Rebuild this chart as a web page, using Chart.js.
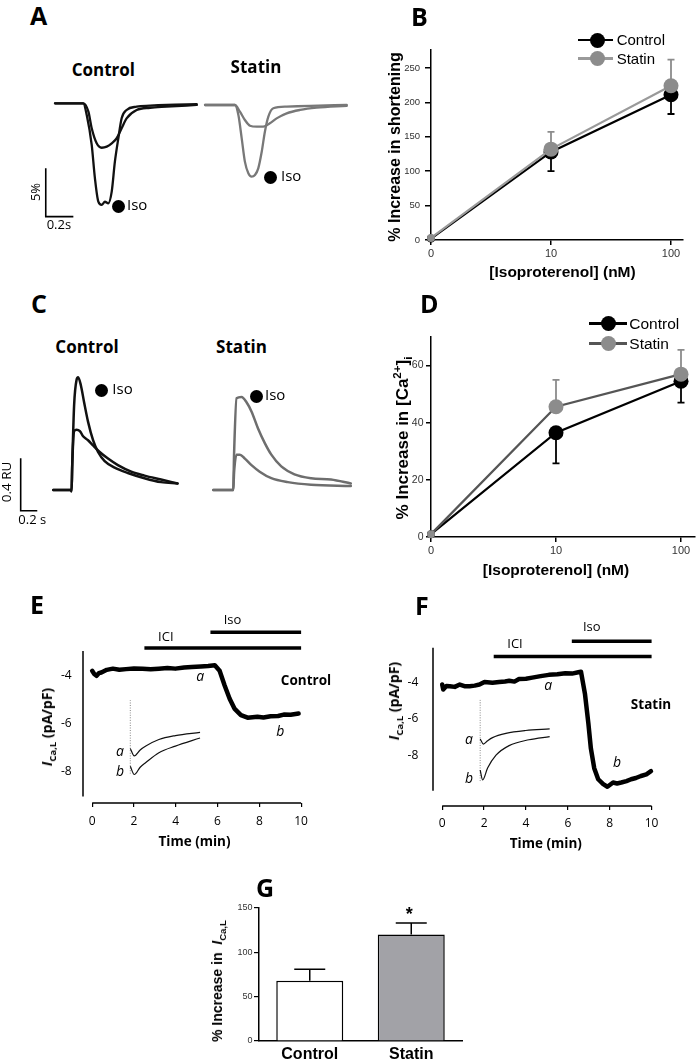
<!DOCTYPE html>
<html>
<head>
<meta charset="utf-8">
<script src="https://cdn.jsdelivr.net/npm/chart.js@4.4.1/dist/chart.umd.min.js"></script>
<style>
  html, body { margin: 0; padding: 0; background: #fff; }
  #page { position: relative; width: 698px; height: 1063px; overflow: hidden; background: #fff; }
  canvas { position: absolute; }
  .t { position: absolute; white-space: nowrap; line-height: 1; color: #000; }
  .t sub, .t sup { font-size: 68%; line-height: 0; }
</style>
</head>
<body>
<div id="page"></div>
<script>
// ---- A: cell shortening traces [time s, % shortening] ----
const aControlIso = [[0,0],[0.205,0],[0.230,-1.21],[0.266,-4.30],[0.289,-7.71],[0.314,-10.17],[0.338,-10.50],[0.362,-10.17],[0.386,-10.33],[0.411,-9.13],[0.434,-6.03],[0.459,-3.61],[0.483,-1.55],[0.519,-0.69],[0.592,-0.35],[0.689,-0.25],[0.809,-0.17],[1.027,-0.10]];
const aControlBase = [[0,0],[0.205,0],[0.242,-0.86],[0.266,-2.58],[0.302,-4.13],[0.338,-4.59],[0.375,-4.48],[0.411,-4.13],[0.447,-3.61],[0.483,-2.58],[0.519,-1.55],[0.592,-0.69],[0.689,-0.46],[0.809,-0.35],[1.027,-0.17]];
const aStatinIso = [[0,0],[0.217,0],[0.242,-1.04],[0.266,-3.44],[0.289,-5.85],[0.314,-7.05],[0.338,-7.40],[0.362,-7.23],[0.386,-6.54],[0.411,-4.83],[0.434,-2.76],[0.459,-1.21],[0.495,-0.34],[0.592,-0.17],[0.761,-0.08],[1.027,0]];
const aStatinBase = [[0,0],[0.217,0],[0.253,-0.69],[0.289,-1.55],[0.326,-2.14],[0.375,-2.24],[0.422,-2.24],[0.470,-1.89],[0.519,-1.38],[0.592,-0.86],[0.689,-0.51],[0.809,-0.28],[1.027,-0.08]];
const aScaleBar = { time: 0.2, amp: 5 };

// ---- C: Ca transients [time s, RU] ----
const cControlIso = [[0,0],[0.212,0],[0.22,-0.01],[0.228,0.19],[0.251,0.65],[0.280,0.84],[0.299,0.86],[0.332,0.80],[0.371,0.67],[0.419,0.52],[0.479,0.38],[0.539,0.29],[0.619,0.22],[0.739,0.17],[0.898,0.13],[1.098,0.09],[1.298,0.06],[1.497,0.05]];
const cControlBase = [[0,0],[0.212,0],[0.22,-0.01],[0.228,0.19],[0.251,0.45],[0.280,0.46],[0.320,0.45],[0.359,0.41],[0.419,0.38],[0.479,0.34],[0.559,0.29],[0.659,0.24],[0.778,0.19],[0.939,0.14],[1.098,0.11],[1.298,0.08],[1.497,0.05]];
const cStatinIso = [[0,0],[0.240,0],[0.251,0.29],[0.280,0.70],[0.340,0.71],[0.40,0.67],[0.46,0.60],[0.539,0.47],[0.619,0.36],[0.699,0.27],[0.819,0.18],[0.978,0.12],[1.178,0.09],[1.418,0.08],[1.657,0.05]];
const cStatinBase = [[0,0],[0.240,0],[0.251,0.14],[0.280,0.27],[0.320,0.27],[0.380,0.24],[0.46,0.19],[0.559,0.14],[0.699,0.09],[0.898,0.06],[1.178,0.04],[1.657,0.03]];
const cScaleBar = { time: 0.2, amp: 0.4 };

// ---- B / D: dose response ----
const doseLabels = ['0', '10', '100'];
const shortControl = [2, 128, 211];
const shortControlSem = [0, 28, 28];
const shortStatin = [3, 132, 224];
const shortStatinSem = [0, 25, 38];
const shortTicks = [0, 50, 100, 150, 200, 250];
const caControl = [1, 36.5, 54.5];
const caControlSem = [0, 10.7, 7.5];
const caStatin = [1, 45.6, 57];
const caStatinSem = [0, 9.4, 8.5];
const caTicks = [0, 20, 40, 60];

// ---- E / F: ICa,L time course [min, pA/pF] ----
const eTrace = [[0,-3.82],[0.1,-3.95],[0.21,-4.03],[0.32,-3.92],[0.44,-3.89],[0.7,-3.78],[0.99,-3.73],[1.3,-3.78],[1.62,-3.75],[2.0,-3.72],[2.41,-3.73],[2.8,-3.76],[3.19,-3.73],[3.6,-3.70],[3.98,-3.73],[4.4,-3.68],[4.76,-3.66],[5.2,-3.64],[5.55,-3.62],[5.87,-3.59],[6.10,-3.82],[6.34,-4.43],[6.58,-4.98],[6.81,-5.39],[7.12,-5.66],[7.44,-5.77],[7.91,-5.73],[8.2,-5.76],[8.54,-5.71],[8.9,-5.70],[9.17,-5.64],[9.5,-5.65],[9.88,-5.60]];
const fTrace = [[0,-4.12],[0.05,-4.39],[0.2,-4.2],[0.36,-4.21],[0.6,-4.25],[0.84,-4.12],[1.1,-4.22],[1.31,-4.21],[1.55,-4.18],[1.78,-4.12],[2.02,-3.98],[2.4,-4.02],[2.72,-3.98],[3.0,-3.95],[3.20,-3.91],[3.45,-3.96],[3.67,-3.82],[4.0,-3.80],[4.30,-3.74],[4.7,-3.66],[5.09,-3.59],[5.5,-3.56],[5.88,-3.50],[6.2,-3.52],[6.50,-3.45],[6.63,-3.42],[6.82,-4.65],[6.98,-6.24],[7.10,-7.63],[7.26,-8.71],[7.45,-9.32],[7.69,-9.59],[7.89,-9.73],[8.16,-9.50],[8.35,-9.55],[8.55,-9.50],[8.8,-9.42],[9.02,-9.32],[9.25,-9.25],[9.49,-9.14],[9.75,-9.05],[9.97,-8.88]];
const eIci = [2.5, 10];
const eIso = [5.66, 10];
const fIci = [2.46, 10];
const fIso = [6.19, 10];
const timeTicks = [0, 2, 4, 6, 8, 10];
const icaTicks = [-8, -6, -4];
// insets [ms, pA/pF, arbitrary scale]
const eInsetA = [[0,-2.9],[16,-3.68],[40,-3.05],[63,-2.63],[116,-1.93],[183,-1.51],[283,-1.16]];
const eInsetB = [[0,-4.8],[16,-5.68],[40,-4.9],[63,-4.39],[116,-3.34],[183,-2.63],[283,-1.76]];
const eInsetSpike = [[0,2.3],[0,-5.6]];
const fInsetA = [[0,-2.6],[13,-3.47],[30,-2.9],[50,-2.35],[104,-1.62],[184,-1.12],[281,-0.84]];
const fInsetB = [[0,-8.0],[10,-9.72],[30,-7.65],[64,-5.41],[117,-3.74],[197,-2.73],[281,-2.18]];
const fInsetSpike = [[0,4.2],[0,-10.0]];

// ---- G: bar chart ----
const groups = ['Control', 'Statin'];
const icaIncrease = [68, 120];
const icaIncreaseSem = [13, 13];
const barTicks = [0, 50, 100, 150];

// ================= helpers =================
const page = document.getElementById('page');
const ASC = { 'Open Sans': 0.888, 'Liberation Sans': 0.8465 };

function txt(html, x, base, size, o = {}) {
  const fam = o.font || 'Open Sans';
  const d = document.createElement('div');
  d.className = 't';
  d.innerHTML = html;
  d.style.fontFamily = '"' + fam + '"';
  d.style.fontSize = size + 'px';
  d.style.fontWeight = o.bold ? 'bold' : 'normal';
  if (o.italic) d.style.fontStyle = 'italic';
  d.style.left = x + 'px';
  d.style.top = (base - ASC[fam] * size) + 'px';
  if (o.center) d.style.transform = 'translateX(-50%)';
  page.appendChild(d);
}
function vtxt(html, cx, cy, size, o = {}) {
  const d = document.createElement('div');
  d.className = 't';
  d.innerHTML = html;
  d.style.fontFamily = '"' + (o.font || 'Open Sans') + '"';
  d.style.fontSize = size + 'px';
  d.style.fontWeight = o.bold ? 'bold' : 'normal';
  d.style.left = cx + 'px';
  d.style.top = cy + 'px';
  d.style.transform = 'translate(-50%,-50%) rotate(-90deg)';
  page.appendChild(d);
}
function dot(cx, cy, r, color) {
  const d = document.createElement('div');
  d.style.cssText = `position:absolute;left:${cx - r}px;top:${cy - r}px;width:${2 * r}px;height:${2 * r}px;border-radius:50%;background:${color};`;
  page.appendChild(d);
}
function hline(x1, x2, y, w, color) {
  const d = document.createElement('div');
  d.style.cssText = `position:absolute;left:${x1}px;top:${y - w / 2}px;width:${x2 - x1}px;height:${w}px;background:${color};`;
  page.appendChild(d);
}
function makeCanvas(l, t, w, h) {
  const c = document.createElement('canvas');
  c.width = w; c.height = h;
  c.style.left = l + 'px'; c.style.top = t + 'px';
  c.style.width = w + 'px'; c.style.height = h + 'px';
  page.appendChild(c);
  return c;
}
// scale range so that value v0 sits at page pixel p0 with k px per unit
function lin(p0, v0, k, lo, hi) { return { min: v0 + (lo - p0) / k, max: v0 + (hi - p0) / k }; }
function linY(p0, v0, k, top, bottom) { return { min: v0 - (bottom - p0) / k, max: v0 + (p0 - top) / k }; }
const pts = arr => arr.map(([x, y]) => ({ x, y }));
const setTicks = vals => s => { s.ticks = vals.map(v => ({ value: v })); };

const errorBars = {
  id: 'errorBars',
  beforeDatasetsDraw(chart) {
    const ctx = chart.ctx;
    chart.data.datasets.forEach((ds, i) => {
      if (!ds.errors) return;
      const meta = chart.getDatasetMeta(i);
      const ys = chart.scales[meta.yAxisID];
      ctx.save();
      ctx.strokeStyle = ds.errColor || '#000';
      ctx.lineWidth = ds.errWidth || 1.6;
      meta.data.forEach((el, j) => {
        const e = ds.errors[j];
        if (!e) return;
        const raw = ds.data[j];
        const v = typeof raw === 'object' ? raw.y : raw;
        const y0 = ys.getPixelForValue(v);
        const y1 = ys.getPixelForValue(v + ds.errDir * e);
        ctx.beginPath();
        ctx.moveTo(el.x, y0); ctx.lineTo(el.x, y1);
        ctx.moveTo(el.x - ds.capHalf, y1); ctx.lineTo(el.x + ds.capHalf, y1);
        ctx.stroke();
      });
      ctx.restore();
    });
  }
};
const axisLines = {
  id: 'axisLines',
  afterDatasetsDraw(chart, args, o) {
    if (!o || o.yFrom === undefined) return;
    const { ctx, chartArea: a, scales } = chart;
    ctx.save();
    ctx.strokeStyle = '#000';
    ctx.lineWidth = o.width || 1.5;
    ctx.beginPath();
    ctx.moveTo(a.left, scales.y.getPixelForValue(o.yFrom));
    ctx.lineTo(a.left, scales.y.getPixelForValue(o.yTo));
    ctx.moveTo(scales.x.getPixelForValue(o.xFrom), a.bottom);
    ctx.lineTo(scales.x.getPixelForValue(o.xTo), a.bottom);
    ctx.stroke();
    ctx.restore();
  }
};
Chart.register(errorBars, axisLines);

function baseOpts(pad) {
  return {
    responsive: false, animation: false, devicePixelRatio: 1, events: [],
    layout: { padding: pad, autoPadding: false },
    plugins: { legend: { display: false }, tooltip: { enabled: false } }
  };
}
const hidden = r => ({ type: 'linear', display: false, min: r.min, max: r.max });
function traceSet(arr, color, width, extra = {}) {
  return Object.assign({ data: pts(arr), borderColor: color, borderWidth: width, pointRadius: 0,
    fill: false, clip: false, cubicInterpolationMode: 'monotone', borderJoinStyle: 'round', borderCapStyle: 'round' }, extra);
}
function scaleBarSet(x0, y0, bar) {
  return { data: [{ x: x0, y: y0 + bar.amp }, { x: x0, y: y0 }, { x: x0 + bar.time, y: y0 }],
    borderColor: '#000', borderWidth: 1.6, pointRadius: 0, fill: false, clip: false, tension: 0 };
}
// trace panel: canvas box in page px; x0px/y0px = where t=0 / baseline sit
function traceChart(box, x0px, y0px, kx, ky, datasets) {
  const c = makeCanvas(box[0], box[1], box[2], box[3]);
  return new Chart(c, {
    type: 'line',
    data: { datasets },
    options: Object.assign(baseOpts(0), {
      scales: {
        x: hidden(lin(x0px, 0, kx, box[0], box[0] + box[2])),
        y: hidden(linY(y0px, 0, ky, box[1], box[1] + box[3]))
      }
    })
  });
}

// ================= Panel A =================
const black = '#111', grey = '#787878';
traceChart([28, 90, 177, 140], 55, 103.3, 138, 9.68, [
  traceSet(aControlIso, black, 2.3),
  traceSet(aControlBase, black, 2.3),
  scaleBarSet(-0.067, -11.71, aScaleBar)
]);
traceChart([200, 90, 155, 100], 205, 105, 138, 9.68, [
  traceSet(aStatinIso, grey, 2.3),
  traceSet(aStatinBase, grey, 2.3)
]);
txt('A', 30, 25, 25, { bold: true });
txt('Control', 103.3, 76, 17, { bold: true, center: true });
txt('Statin', 256, 73, 17, { bold: true, center: true });
dot(118.3, 206.7, 6.5, '#000'); txt('Iso', 127, 210.7, 15);
dot(270, 177.7, 6.5, '#000'); txt('Iso', 281, 181.7, 15);
vtxt('5%', 35, 191.7, 13);
txt('0.2s', 46.7, 230, 13);

// ================= Panel C =================
traceChart([5, 365, 185, 155], 53.3, 490, 83, 131, [
  traceSet(cControlIso, black, 2.5),
  traceSet(cControlBase, black, 2.5),
  scaleBarSet(-0.393, -0.158, cScaleBar)
]);
traceChart([208, 380, 152, 115], 213.3, 490, 83, 131, [
  traceSet(cStatinIso, '#6e6e6e', 2.5),
  traceSet(cStatinBase, '#6e6e6e', 2.5)
]);
txt('C', 31, 313, 25, { bold: true });
txt('Control', 87, 352.7, 17, { bold: true, center: true });
txt('Statin', 241.5, 352.7, 17, { bold: true, center: true });
dot(101.7, 390, 6.5, '#000'); txt('Iso', 112.3, 394, 15);
dot(256, 396.7, 6.5, '#000'); txt('Iso', 265, 400, 15);
vtxt('0.4 RU', 6.7, 481.7, 13.5);
txt('0.2 s', 18.3, 524.5, 13);

// ================= Panels B & D =================
function doseChart(box, area, yMax, xMax, ticks, yFont, yTick, sets) {
  const c = makeCanvas(box[0], box[1], box[2], box[3]);
  const yW = area[0] - box[0], padTop = area[1] - box[1];
  const padRight = box[0] + box[2] - area[2], xH = box[1] + box[3] - area[3];
  const axisStyle = { display: true, drawOnChartArea: false, drawTicks: true, color: '#000', lineWidth: 1.5 };
  return new Chart(c, {
    type: 'line',
    data: { datasets: sets },
    options: Object.assign(baseOpts({ top: padTop, right: padRight, left: 0, bottom: 0 }), {
      scales: {
        x: {
          type: 'linear', min: 0, max: xMax,
          afterBuildTicks: setTicks([0, 1, 2]),
          afterFit: s => { s.height = xH; },
          grid: Object.assign({ tickLength: 5 }, axisStyle),
          border: { display: true, color: '#000', width: 1.5 },
          ticks: { callback: v => doseLabels[v], font: { family: 'Liberation Sans', size: 11 }, color: '#333', padding: 2, maxRotation: 0 }
        },
        y: {
          type: 'linear', min: 0, max: yMax,
          afterBuildTicks: setTicks(ticks),
          afterFit: s => { s.width = yW; },
          grid: Object.assign({ tickLength: yTick[0] }, axisStyle),
          border: { display: true, color: '#000', width: 1.5 },
          ticks: { font: { family: 'Liberation Sans', size: yFont }, color: '#333', padding: yTick[1] }
        }
      }
    })
  });
}
function doseSet(vals, sems, dir, lineColor, dotColor, order) {
  return {
    data: vals.map((v, i) => ({ x: i, y: v })),
    borderColor: lineColor, borderWidth: 2.2, tension: 0, fill: false, clip: false,
    pointRadius: [4, 7.5, 7.5], pointBackgroundColor: dotColor, pointBorderColor: dotColor, pointBorderWidth: 0,
    errors: sems, errDir: dir, errColor: dotColor === '#000' ? '#000' : '#8c8c8c', errWidth: 1.8, capHalf: 3.5,
    order
  };
}
doseChart([380, 30, 318, 250], [431, 50, 683, 240], 276, 2.1, shortTicks, 9.5, [6, 5], [
  doseSet(shortControl, shortControlSem, -1, '#000', '#000', 1),
  doseSet(shortStatin, shortStatinSem, 1, '#9a9a9a', '#8c8c8c', 0)
]);
doseChart([380, 320, 318, 250], [431, 337, 695, 537], 70, 2.112, caTicks, 10.5, [5, 2.5], [
  doseSet(caControl, caControlSem, -1, '#000', '#000', 1),
  doseSet(caStatin, caStatinSem, 1, '#555', '#8c8c8c', 0)
]);
txt('B', 411, 26, 25, { bold: true });
hline(577.7, 613.3, 40, 2.5, '#000'); dot(597.5, 40, 7.5, '#000');
txt('Control', 616.7, 45, 15, { font: 'Liberation Sans' });
hline(577.7, 613.3, 58.3, 2.5, '#9a9a9a'); dot(597, 58.3, 7.5, '#8c8c8c');
txt('Statin', 616.7, 63.3, 15, { font: 'Liberation Sans' });
vtxt('% Increase in shortening', 395, 147, 16, { font: 'Liberation Sans', bold: true });
txt('[Isoproterenol] (nM)', 562.5, 277, 15.5, { font: 'Liberation Sans', bold: true, center: true });

txt('D', 420, 312.7, 25, { bold: true });
hline(589, 627, 323.3, 2.5, '#000'); dot(608.3, 323.3, 7.5, '#000');
txt('Control', 629.3, 329.3, 15.5, { font: 'Liberation Sans' });
hline(589, 627, 343.3, 2.5, '#555'); dot(608.3, 343.3, 7.5, '#8c8c8c');
txt('Statin', 629.3, 349.3, 15.5, { font: 'Liberation Sans' });
vtxt('% Increase in [Ca<sup>2+</sup>]<sub>i</sub>', 401.7, 437.5, 17, { font: 'Liberation Sans', bold: true });
txt('[Isoproterenol] (nM)', 556, 575, 15.5, { font: 'Liberation Sans', bold: true, center: true });

// ================= Panels E & F =================
function currentChart(box, area, m, trace, ici, iso, insetA, insetB, spike, axisOpt) {
  const c = makeCanvas(box[0], box[1], box[2], box[3]);
  const yW = area[0] - box[0], padTop = area[1] - box[1];
  const padRight = box[0] + box[2] - area[2], xH = box[1] + box[3] - area[3];
  const L = area[0], T = area[1], R = area[2], B = area[3];
  const bar = (arr, lvl) => ({ data: arr.map(x => ({ x, y: lvl })), xAxisID: 'x', yAxisID: 'yb',
    borderColor: '#000', borderWidth: 3.5, pointRadius: 0, tension: 0, clip: false, borderCapStyle: 'butt' });
  const inset = (arr, extra) => Object.assign({ data: pts(arr), xAxisID: 'xi', yAxisID: 'yi',
    borderColor: '#111', borderWidth: 1.2, pointRadius: 0, clip: false, cubicInterpolationMode: 'monotone' }, extra);
  return new Chart(c, {
    type: 'line',
    data: {
      datasets: [
        { data: pts(trace), borderColor: '#000', borderWidth: 4.5, pointRadius: 0, tension: 0, clip: false,
          borderJoinStyle: 'round', borderCapStyle: 'round' },
        bar(ici, 0), bar(iso, 1),
        inset(insetA), inset(insetB),
        inset(spike, { borderColor: '#888', borderWidth: 1, borderDash: [1, 1.5] })
      ]
    },
    options: Object.assign(baseOpts({ top: padTop, right: padRight, left: 0, bottom: 0 }), {
      scales: {
        x: Object.assign(lin(m.x0, 0, m.kx, L, R), {
          type: 'linear',
          afterBuildTicks: setTicks(timeTicks),
          afterFit: s => { s.height = xH; },
          grid: { display: true, drawOnChartArea: false, drawTicks: true, tickLength: 4, color: '#000', lineWidth: 1.2 },
          border: { display: false },
          ticks: { font: { family: 'Open Sans', size: 12 }, color: '#000', padding: m.xPad, maxRotation: 0 }
        }),
        y: Object.assign(linY(m.y0, -4, m.ky, T, B), {
          type: 'linear',
          afterBuildTicks: setTicks(icaTicks),
          afterFit: s => { s.width = yW; },
          grid: { display: false, drawTicks: false },
          border: { display: false },
          ticks: { font: { family: 'Open Sans', size: 12 }, color: '#000', padding: m.yPad }
        }),
        yb: hidden(linY(m.iciPx, 0, m.iciPx - m.isoPx, T, B)),
        xi: hidden(lin(m.insetX, 0, 0.25, L, R)),
        yi: hidden(linY(m.insetY, 0, m.insetK, T, B))
      },
      plugins: { legend: { display: false }, tooltip: { enabled: false }, axisLines: axisOpt }
    })
  });
}
currentChart([50, 600, 265, 240], [83, 615, 305, 803],
  { x0: 92.3, kx: 21.2, y0: 672.7, ky: 24.5, xPad: 7, yPad: 11.3, iciPx: 645, isoPx: 629, insetX: 131, insetY: 720, insetK: 9.5 },
  eTrace, eIci, eIso, eInsetA, eInsetB, eInsetSpike, { yFrom: -3, yTo: -9.05, xFrom: 0, xTo: 10, width: 1.5 });
currentChart([385, 600, 280, 240], [433, 615, 655, 806],
  { x0: 442.3, kx: 21.17, y0: 677.7, ky: 18.9, xPad: 6.5, yPad: 14.7, iciPx: 651, isoPx: 635, insetX: 480.7, insetY: 721, insetK: 5.97 },
  fTrace, fIci, fIso, fInsetA, fInsetB, fInsetSpike, { yFrom: -2.1, yTo: -9.95, xFrom: 0, xTo: 10, width: 1.5 });

const icaTitle = '<i>I</i><sub>Ca,L</sub> (pA/pF)';
txt('E', 30, 614, 25, { bold: true });
txt('ICI', 165.8, 641.7, 13, { center: true });
txt('Iso', 232.5, 625, 13, { center: true });
txt('Control', 306, 686, 13.5, { bold: true, center: true });
txt('a', 200.3, 681.7, 14, { italic: true, center: true });
txt('b', 280.3, 736.7, 14, { italic: true, center: true });
txt('a', 120, 756.7, 14, { italic: true, center: true });
txt('b', 120, 776.7, 14, { italic: true, center: true });
txt('Time (min)', 194.5, 846.7, 13.5, { bold: true, center: true });
vtxt(icaTitle, 47, 727, 14, { bold: true });

txt('F', 415, 615, 25, { bold: true });
txt('ICI', 515, 648.3, 13, { center: true });
txt('Iso', 591.8, 631.7, 13, { center: true });
txt('Statin', 651, 710, 13.5, { bold: true, center: true });
txt('a', 548.3, 690.7, 14, { italic: true, center: true });
txt('b', 617, 767.3, 14, { italic: true, center: true });
txt('a', 469, 744, 14, { italic: true, center: true });
txt('b', 469, 783.3, 14, { italic: true, center: true });
txt('Time (min)', 545.8, 849.3, 13.5, { bold: true, center: true });
vtxt(icaTitle, 394, 701, 14, { bold: true });

// ================= Panel G =================
(function () {
  const box = [225, 895, 250, 168], area = [259, 908, 462, 1041];
  const c = makeCanvas(box[0], box[1], box[2], box[3]);
  new Chart(c, {
    type: 'bar',
    data: {
      labels: groups,
      datasets: [{
        data: icaIncrease,
        backgroundColor: ['#ffffff', '#a2a2a7'],
        borderColor: '#000', borderWidth: 1.5,
        barPercentage: 0.66, categoryPercentage: 1.0,
        errors: icaIncreaseSem, errDir: 1, errColor: '#000', errWidth: 1.5, capHalf: 15.5
      }]
    },
    options: Object.assign(baseOpts({ top: area[1] - box[1], right: box[0] + box[2] - area[2], left: 0, bottom: 0 }), {
      scales: {
        x: {
          afterFit: s => { s.height = box[1] + box[3] - area[3]; },
          grid: { display: false, drawTicks: false },
          border: { display: true, color: '#000', width: 1.5 },
          ticks: { font: { family: 'Liberation Sans', size: 16, weight: 'bold' }, color: '#000', padding: 4 }
        },
        y: {
          min: 0, max: 150,
          afterBuildTicks: setTicks(barTicks),
          afterFit: s => { s.width = area[0] - box[0]; },
          grid: { display: true, drawOnChartArea: false, drawTicks: true, tickLength: 5, color: '#000', lineWidth: 1.2 },
          border: { display: true, color: '#000', width: 1.5 },
          ticks: { font: { family: 'Liberation Sans', size: 9 }, color: '#333', padding: 1.5 }
        }
      }
    })
  });
})();
txt('G', 256, 897, 25, { bold: true });
txt('*', 409.3, 920, 18, { font: 'Liberation Sans', bold: true, center: true });
vtxt('% Increase in &nbsp;<i>I</i><sub>Ca,L</sub>', 216.7, 981, 14, { font: 'Liberation Sans', bold: true });
</script>
</body>
</html>
